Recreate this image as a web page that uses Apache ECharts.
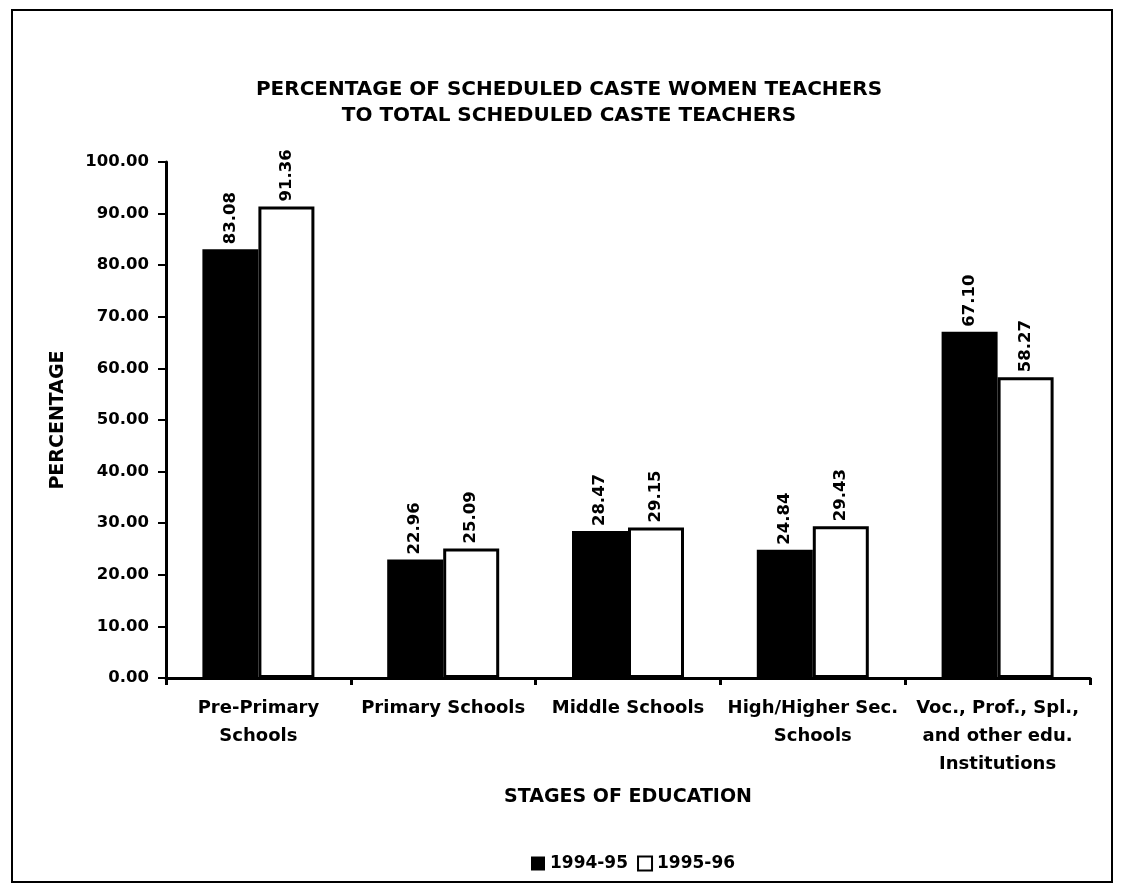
<!DOCTYPE html>
<html>
<head>
  <meta charset="utf-8">
  <title>SC women teachers</title>
  <script src="https://cdn.jsdelivr.net/npm/echarts@6/dist/echarts.min.js"></script>
  <style>
    html, body { margin: 0; padding: 0; background: #fff; }
    #main { width: 1125px; height: 896px; }
  </style>
</head>
<body>
<div id="main"></div>
<script>
  // 数据
  var categories = ['Pre-Primary\nSchools', 'Primary Schools', 'Middle Schools',
    'High/Higher Sec.\nSchools', 'Voc., Prof., Spl.,\nand other edu.\nInstitutions'];
  var data9495 = [83.08, 22.96, 28.47, 24.84, 67.10];
  var data9596 = [91.36, 25.09, 29.15, 29.43, 58.27];
  var yearNames = ['1994-95', '1995-96'];

  var font = 'DejaVu Sans, Verdana, sans-serif';
  var chart = echarts.init(document.getElementById('main'));

  var valueLabel = {
    show: true,
    position: 'top',
    rotate: 90,
    align: 'left',
    verticalAlign: 'middle',
    distance: 5,
    color: '#000',
    fontFamily: font,
    fontWeight: 'bold',
    fontSize: 16.5,
    formatter: function (p) { return p.value.toFixed(2); }
  };

  var option = {
    backgroundColor: '#fff',
    animation: false,
    title: {
      text: 'PERCENTAGE OF SCHEDULED CASTE WOMEN TEACHERS\nTO TOTAL SCHEDULED CASTE TEACHERS',
      left: 564,
      textAlign: 'center',
      top: 72,
      textStyle: { fontFamily: font, fontSize: 20, fontWeight: 'bold', color: '#000', lineHeight: 26 }
    },
    legend: {
      data: yearNames,
      left: 526,
      top: 850,
      itemWidth: 14,
      itemHeight: 14,
      itemGap: 9,
      icon: 'rect',
      textStyle: { fontFamily: font, fontSize: 17, fontWeight: 'bold', color: '#000' }
    },
    graphic: [{
      type: 'rect',
      shape: { x: 12, y: 10, width: 1100, height: 872 },
      style: { fill: 'none', stroke: '#000', lineWidth: 2 },
      silent: true
    }],
    grid: { left: 166, right: 35, top: 162, bottom: 218, containLabel: false },
    xAxis: {
      type: 'category',
      data: categories,
      name: 'STAGES OF EDUCATION',
      nameLocation: 'middle',
      nameGap: 110,
      nameTextStyle: { fontFamily: font, fontSize: 19, fontWeight: 'bold', color: '#000' },
      axisLine: { lineStyle: { color: '#000', width: 3 } },
      axisTick: { show: true, length: 7, lineStyle: { color: '#000', width: 3 } },
      axisLabel: {
        fontFamily: font, fontSize: 18, fontWeight: 'bold', color: '#000',
        margin: 16, lineHeight: 28, interval: 0
      }
    },
    yAxis: {
      type: 'value',
      min: 0,
      max: 100,
      interval: 10,
      name: 'PERCENTAGE',
      nameLocation: 'middle',
      nameRotate: 90,
      nameGap: 98,
      nameTextStyle: { fontFamily: font, fontSize: 19, fontWeight: 'bold', color: '#000' },
      splitLine: { show: false },
      axisLine: { show: true, lineStyle: { color: '#000', width: 3 } },
      axisTick: { show: true, length: 8, lineStyle: { color: '#000', width: 2 } },
      axisLabel: {
        fontFamily: font, fontSize: 16.5, fontWeight: 'bold', color: '#000', margin: 17,
        formatter: function (v) { return v.toFixed(2); }
      }
    },
    series: [
      {
        name: yearNames[0],
        type: 'bar',
        data: data9495,
        barWidth: 56,
        barGap: '0%',
        itemStyle: { color: '#000', borderColor: '#000', borderWidth: 0 },
        label: valueLabel
      },
      {
        name: yearNames[1],
        type: 'bar',
        data: data9596,
        barWidth: 56,
        itemStyle: { color: '#fff', borderColor: '#000', borderWidth: 3 },
        label: valueLabel
      }
    ]
  };

  chart.setOption(option);
</script>
</body>
</html>
